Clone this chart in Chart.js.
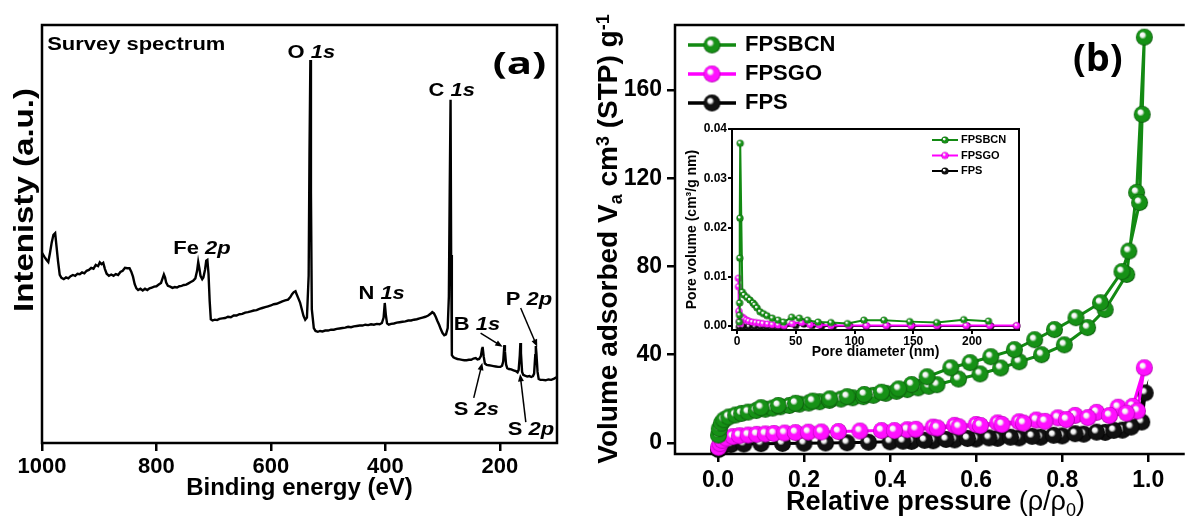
<!DOCTYPE html>
<html>
<head>
<meta charset="utf-8">
<title>XPS survey and N2 isotherms</title>
<script src="https://cdn.jsdelivr.net/npm/chart.js@4.4.1/dist/chart.umd.min.js"></script>
<style>
  html, body { margin: 0; padding: 0; background: #fff; }
  #fig { position: relative; width: 1195px; height: 523px; overflow: hidden; background: #fff; }
  #fig canvas { position: absolute; }
  #chart-a { left: 0; top: 0; }
  #chart-b { left: 580px; top: 0; }
  #chart-pore { left: 670px; top: 115px; }
</style>
</head>
<body>
<div id="fig">
  <canvas id="chart-a" width="580" height="523"></canvas>
  <canvas id="chart-b" width="615" height="523"></canvas>
  <canvas id="chart-pore" width="360" height="250"></canvas>
</div>
<script>
// Figure: (a) XPS survey spectrum, (b) N2 isotherms + BJH pore size inset

const FONT = '"Liberation Sans", Arial, Helvetica, sans-serif';
const ROUND = '"Open Sans", "Liberation Sans", sans-serif';
Chart.defaults.font.family = FONT;
Chart.defaults.color = '#000';

// --- (a) survey spectrum ---
const energyA = [1000, 996, 992, 989, 986, 983, 980, 977, 975, 972, 969, 966, 962, 958, 954, 950, 946, 942, 938, 934,
  930, 926, 922, 918, 914, 910, 906, 902, 899, 896, 893, 890, 887, 883, 879, 875, 871, 867, 863, 859,
  855, 851, 847, 844, 841, 838, 835, 832, 828, 824, 820, 816, 812, 808, 804, 800, 796, 792, 789, 787,
  785, 783, 780, 776, 772, 768, 764, 760, 756, 752, 748, 744, 740, 736, 732, 729, 727, 725, 723, 720,
  718, 715, 713, 711, 709, 707, 705, 702, 698, 694, 690, 685, 680, 675, 670, 665, 660, 655, 650, 645,
  640, 635, 630, 625, 620, 615, 610, 605, 600, 595, 590, 585, 580, 575, 570, 566, 563, 560, 557, 555,
  552, 549, 546, 543, 540, 537, 534, 532.5, 531, 530, 528.5, 525, 522, 518, 514, 510, 505, 500, 495, 490,
  485, 480, 475, 470, 465, 460, 455, 450, 445, 440, 435, 430, 425, 420, 415, 410, 406, 403, 401, 399,
  397, 394, 390, 385, 380, 375, 370, 365, 360, 355, 350, 345, 340, 335, 330, 325, 321, 318, 315, 312,
  309, 306, 303, 300, 297, 294, 291, 289, 287.5, 286, 285, 284, 283.5, 281, 278, 274, 270, 266, 262, 258,
  254, 250, 246, 242, 239, 236, 233, 231, 230, 228, 226, 223, 219, 215, 211, 207, 203, 199, 196, 194,
  192, 191, 189, 187, 184, 180, 176, 172, 169, 167, 165, 164, 163, 161, 159, 156, 152, 148, 145, 142,
  140, 138, 137, 136, 134, 132, 129, 125, 120, 115, 110, 105, 100];
const intensityA = [45.5, 44.6, 43.8, 43.3, 45.5, 48.0, 49.8, 50.2, 47.5, 43.5, 40.2, 39.5, 39.2, 39.6, 39.4, 39.9, 40.2, 40.0, 40.5, 40.4,
  40.8, 40.6, 41.2, 41.4, 41.9, 41.7, 42.6, 42.3, 43.2, 42.8, 43.1, 41.6, 40.5, 40.0, 40.3, 40.0, 40.4, 40.2, 40.9, 41.2,
  41.9, 41.8, 41.8, 41.0, 39.8, 38.0, 37.0, 36.6, 36.9, 36.5, 36.9, 36.6, 37.0, 37.2, 37.4, 37.5, 37.9, 38.3, 39.5, 40.3,
  39.6, 38.4, 37.6, 37.4, 37.1, 37.3, 37.2, 37.5, 37.6, 37.8, 37.9, 38.2, 38.5, 38.8, 39.4, 41.2, 43.3, 41.8, 40.0, 39.2,
  39.6, 41.5, 43.6, 43.8, 40.5, 34.0, 29.6, 29.3, 29.5, 29.4, 29.7, 29.8, 29.9, 30.2, 30.1, 30.5, 30.5, 30.8, 30.9, 31.2,
  31.3, 31.5, 31.7, 31.8, 32.1, 32.3, 32.5, 32.7, 32.9, 33.2, 33.3, 33.6, 33.9, 34.1, 34.3, 34.9, 35.6, 36.1, 36.3, 35.6,
  34.6, 33.6, 32.0, 30.4, 29.5, 30.0, 40.0, 70.0, 91.6, 60.0, 32.0, 27.5, 26.8, 26.6, 26.8, 26.7, 26.9, 26.9, 27.1, 27.1,
  27.3, 27.4, 27.5, 27.6, 27.8, 27.7, 27.9, 28.0, 28.1, 28.1, 28.3, 28.2, 28.4, 28.3, 28.5, 28.4, 28.7, 30.0, 33.5, 30.5,
  28.6, 28.3, 28.5, 28.6, 28.8, 28.9, 29.0, 29.1, 29.3, 29.3, 29.5, 29.6, 29.8, 30.0, 30.2, 30.5, 30.9, 31.3, 31.0, 30.2,
  29.2, 28.3, 27.2, 26.3, 25.8, 26.0, 27.5, 35.0, 60.0, 82.1, 45.0, 26.0, 21.0, 20.5, 20.3, 20.1, 20.0, 19.9, 19.8, 19.8,
  19.9, 19.9, 20.2, 20.3, 20.0, 20.1, 20.8, 22.5, 23.0, 20.6, 19.0, 18.7, 18.6, 18.5, 18.4, 18.3, 18.2, 18.2, 18.5, 19.5,
  23.4, 22.0, 18.8, 17.9, 17.7, 17.6, 17.4, 17.2, 16.9, 17.5, 21.0, 23.9, 21.5, 17.0, 16.3, 16.1, 15.9, 16.0, 15.8, 16.0,
  16.6, 21.0, 23.2, 21.5, 17.0, 15.3, 15.1, 15.1, 15.0, 15.2, 15.1, 15.4, 15.8];
const ticksEnergy = [1000, 800, 600, 400, 200];

// --- (b) N2 isotherms (adsorption then desorption) ---
const seriesNames = ['FPSBCN', 'FPSGO', 'FPS'];
const pBCN = [0.001, 0.003, 0.008, 0.014, 0.025, 0.041, 0.055, 0.070, 0.089, 0.110, 0.127, 0.145, 0.166, 0.189, 0.211, 0.236,
  0.259, 0.286, 0.313, 0.338, 0.361, 0.390, 0.415, 0.440, 0.465, 0.490, 0.509, 0.559, 0.609, 0.657, 0.700, 0.752,
  0.805, 0.859, 0.900, 0.950, 0.973, 0.991,
  0.986, 0.980, 0.955, 0.939, 0.889, 0.832, 0.782, 0.736, 0.689, 0.634, 0.586, 0.541, 0.486, 0.450, 0.420, 0.380,
  0.340, 0.300, 0.260, 0.220, 0.180, 0.140, 0.100];
const vBCN = [3.6, 6.5, 9.0, 10.5, 11.8, 12.7, 13.4, 14.0, 14.7, 15.3, 15.8, 16.4, 17.0, 17.6, 18.1, 18.7,
  19.3, 19.9, 20.5, 21.0, 21.6, 22.5, 23.4, 24.2, 25.0, 25.7, 26.4, 29.0, 31.3, 34.0, 36.8, 40.0,
  44.5, 52.3, 60.5, 76.4, 113.6, 184.0,
  149.0, 109.0, 87.0, 77.7, 63.6, 56.8, 51.4, 46.8, 42.3, 39.1, 36.4, 34.1, 30.0, 26.5, 24.5, 23.0,
  22.0, 21.0, 20.0, 19.0, 18.0, 17.0, 16.0];
const pGO = [0.001, 0.005, 0.010, 0.020, 0.035, 0.050, 0.070, 0.090, 0.110, 0.130, 0.155, 0.180, 0.210, 0.240, 0.280, 0.330,
  0.380, 0.440, 0.500, 0.550, 0.600, 0.650, 0.700, 0.740, 0.790, 0.830, 0.880, 0.930, 0.964, 0.991,
  0.975, 0.950, 0.910, 0.860, 0.810, 0.760, 0.710, 0.660, 0.610, 0.560, 0.510, 0.460, 0.410];
const vGO = [-2.0, -0.3, 1.2, 2.2, 2.9, 3.3, 3.6, 3.9, 4.1, 4.3, 4.5, 4.7, 4.9, 5.0, 5.2, 5.4,
  5.6, 6.0, 7.2, 8.0, 8.4, 9.1, 9.6, 10.4, 11.4, 12.5, 13.9, 16.2, 16.6, 34.1,
  14.5, 13.5, 12.4, 11.5, 10.6, 9.8, 9.0, 8.4, 7.9, 7.3, 6.8, 6.2, 5.6];
const pFPS = [0.001, 0.005, 0.010, 0.030, 0.060, 0.100, 0.150, 0.200, 0.250, 0.300, 0.350, 0.400, 0.450, 0.500, 0.550, 0.600,
  0.650, 0.700, 0.750, 0.800, 0.850, 0.900, 0.940, 0.970, 0.993,
  0.985, 0.960, 0.920, 0.880, 0.830, 0.780, 0.730, 0.680, 0.630, 0.580, 0.530, 0.480, 0.430];
const vFPS = [-3.0, -2.2, -1.4, -0.8, -0.5, -0.3, -0.2, -0.1, 0.0, 0.1, 0.3, 0.5, 0.7, 1.0, 1.4, 1.8,
  2.1, 2.3, 2.6, 3.2, 4.0, 4.8, 5.8, 9.5, 22.7,
  9.5, 7.2, 5.7, 4.9, 4.2, 3.5, 3.0, 2.6, 2.3, 2.0, 1.6, 1.2, 0.8];
const ticksP = [0, 0.2, 0.4, 0.6, 0.8, 1.0];
const ticksV = [0, 40, 80, 120, 160];

// --- inset: pore size distribution ---
const dBCN = [2.0, 2.1, 2.2, 2.35, 2.5, 2.7, 4.5, 6, 8.5, 11, 13.6, 15, 17, 19.6, 22.5, 25.5, 30, 35, 39.5, 46.5,
  53, 60, 69, 80, 94, 108, 125, 147, 170, 193, 214];
const pvBCN = [0.0008, 0.0022, 0.0047, 0.0138, 0.0219, 0.0371, 0.0069, 0.0063, 0.0058, 0.0053, 0.0047, 0.0043, 0.0037,
  0.0029, 0.0025, 0.0021, 0.0016, 0.0012, 0.0008, 0.0018, 0.0016, 0.0012, 0.0008, 0.0007, 0.0005, 0.0012, 0.0012,
  0.0009, 0.0007, 0.0013, 0.0010];
const dGO = [1.2, 1.3, 1.6, 2.0, 3, 4.5, 6, 8, 10, 13, 16, 19, 22, 26, 30, 35, 40, 47, 55, 62, 70, 80, 95, 110, 127,
  148, 170, 195, 215, 238];
const pvGO = [0.0097, 0.0080, 0.0030, 0.0010, 0.0005, 0.0018, 0.0015, 0.0012, 0.0010, 0.0008, 0.0007, 0.0006, 0.0005,
  0.0004, 0.0003, 0.0002, 0.0001, 0.0005, 0.0007, 0.0003, 0.0002, 0.0001, 0.0001, 0.0001, 0.0001, 0.0001, 0.0001,
  0.0001, 0.0001, 0.0001];
const dFPS = [2, 5, 10, 15, 20, 25, 30, 35, 40, 50, 57, 64, 72, 82, 96, 110, 128, 149, 171, 196, 216, 238];
const pvFPS = [-0.0002, -0.0001, -0.0001, -0.0001, -0.0001, -0.0001, -0.0001, -0.0001, 0, 0.0001, 0.0004, 0.0001, 0,
  0, 0, 0, 0, 0, 0, 0, 0, 0];
const ticksD = [0, 50, 100, 150, 200];
const ticksPV = [0, 0.01, 0.02, 0.03, 0.04];

// --- helpers ---
const bold = s => `bold ${s}px ${FONT}`;
const boldIt = s => `italic bold ${s}px ${FONT}`;
const plain = s => `${s}px ${FONT}`;
const pts = (xs, ys) => xs.map((x, i) => ({ x, y: ys[i] }));

// segs: [text, font, dy]
function rich(ctx, segs, x, y, o = {}) {
  ctx.save();
  ctx.translate(x, y);
  if (o.rot) ctx.rotate(o.rot);
  ctx.scale(o.sx || 1, 1);
  ctx.textBaseline = o.base || 'middle';
  ctx.fillStyle = '#000';
  let w = 0;
  segs.forEach(s => { ctx.font = s[1]; w += ctx.measureText(s[0]).width; });
  let cx = o.align === 'center' ? -w / 2 : 0;
  segs.forEach(s => {
    ctx.font = s[1];
    ctx.fillText(s[0], cx, s[2] || 0);
    cx += ctx.measureText(s[0]).width;
  });
  ctx.restore();
}

function arrow(ctx, x1, y1, x2, y2) {
  const ang = Math.atan2(y2 - y1, x2 - x1), h = 8;
  ctx.save();
  ctx.strokeStyle = '#000'; ctx.fillStyle = '#000'; ctx.lineWidth = 1.5;
  ctx.beginPath(); ctx.moveTo(x1, y1);
  ctx.lineTo(x2 - Math.cos(ang) * h * 0.7, y2 - Math.sin(ang) * h * 0.7); ctx.stroke();
  ctx.beginPath(); ctx.moveTo(x2, y2);
  ctx.lineTo(x2 - h * Math.cos(ang - 0.38), y2 - h * Math.sin(ang - 0.38));
  ctx.lineTo(x2 - h * Math.cos(ang + 0.38), y2 - h * Math.sin(ang + 0.38));
  ctx.closePath(); ctx.fill();
  ctx.restore();
}

// shaded ball used as point style
function sphere(color, dark, r) {
  const c = document.createElement('canvas');
  const s = Math.ceil(2 * r + 2);
  c.width = c.height = s;
  const g = c.getContext('2d'), m = s / 2;
  const grad = g.createRadialGradient(m - r * 0.3, m - r * 0.35, r * 0.05, m, m, r);
  grad.addColorStop(0, '#ffffff');
  grad.addColorStop(0.22, '#f2f2f2');
  grad.addColorStop(0.42, color);
  grad.addColorStop(0.85, color);
  grad.addColorStop(1, dark);
  g.fillStyle = grad;
  g.beginPath(); g.arc(m, m, r, 0, Math.PI * 2); g.fill();
  return c;
}

function axis(min, max, ticks, o) {
  return {
    type: 'linear', min, max,
    afterBuildTicks: s => { s.ticks = ticks.map(v => ({ value: v })); },
    afterFit: s => { if (o.w) s.width = o.w; if (o.h) s.height = o.h; },
    grid: { drawOnChartArea: false, color: '#000', lineWidth: o.lw, tickLength: o.tl },
    border: { display: false },
    ticks: { font: { size: o.fs, weight: 'bold' }, color: '#000', padding: o.pad, maxRotation: 0, autoSkip: false,
      callback: o.fmt || (v => String(v)) },
    title: o.title || { display: false }
  };
}

// --- plugins ---
const framePlugin = {
  id: 'frame',
  beforeDatasetsDraw(chart, args, o) {
    const { ctx, chartArea: a } = chart;
    ctx.save();
    ctx.strokeStyle = '#000'; ctx.lineWidth = o.lw; ctx.lineCap = 'square';
    ctx.beginPath();
    if (o.sides.includes('l')) { ctx.moveTo(a.left, a.bottom); ctx.lineTo(a.left, a.top); }
    if (o.sides.includes('t')) { ctx.moveTo(a.left, a.top); ctx.lineTo(a.right, a.top); }
    if (o.sides.includes('r')) { ctx.moveTo(a.right, a.top); ctx.lineTo(a.right, a.bottom); }
    if (o.sides.includes('b')) { ctx.moveTo(a.left, a.bottom); ctx.lineTo(a.right, a.bottom); }
    ctx.stroke();
    ctx.restore();
  }
};

const notesPlugin = {
  id: 'notes',
  afterDraw(chart, args, o) {
    const { ctx, chartArea: a, scales: { x, y } } = chart;
    (o.arrows || []).forEach(r => arrow(ctx, x.getPixelForValue(r[0]), y.getPixelForValue(r[1]),
      x.getPixelForValue(r[2]), y.getPixelForValue(r[3])));
    (o.texts || []).forEach(t => rich(ctx, t.segs, x.getPixelForValue(t.x), y.getPixelForValue(t.y), t));
    (o.titles || []).forEach(t => rich(ctx, t.segs, a.left + t.dx, a.top + t.dy, t));
  }
};

const keyPlugin = {
  id: 'key',
  afterDraw(chart, args, o) {
    const { ctx, chartArea: a } = chart;
    chart.data.datasets.forEach((ds, i) => {
      const x = a.left + o.x, y = a.top + o.y + i * o.dy;
      ctx.save();
      ctx.strokeStyle = ds.borderColor; ctx.lineWidth = o.lw;
      ctx.beginPath(); ctx.moveTo(x, y); ctx.lineTo(x + o.len, y); ctx.stroke();
      const img = ds.pointStyle;
      ctx.drawImage(img, x + o.len / 2 - img.width / 2, y - img.height / 2);
      ctx.fillStyle = '#000'; ctx.font = o.font; ctx.textBaseline = 'middle';
      ctx.fillText(ds.label, x + o.len + o.gap, y);
      ctx.restore();
    });
  }
};

const base = { responsive: false, animation: false, events: [], devicePixelRatio: 1 };

// --- (a) ---
const notesA = [
  { x: 991, y: 95.2, segs: [['Survey spectrum', bold(18)]], sx: 1.22 },
  { x: 571, y: 93.2, segs: [['O ', bold(18)], ['1s', boldIt(18)]], sx: 1.22 },
  { x: 324.5, y: 84.3, segs: [['C ', bold(18)], ['1s', boldIt(18)]], sx: 1.22 },
  { x: 770.5, y: 46.4, segs: [['Fe ', bold(18)], ['2p', boldIt(18)]], sx: 1.22 },
  { x: 447, y: 35.6, segs: [['N ', bold(18)], ['1s', boldIt(18)]], sx: 1.22 },
  { x: 280.5, y: 28.2, segs: [['B ', bold(18)], ['1s', boldIt(18)]], sx: 1.22 },
  { x: 189.5, y: 34.2, segs: [['P ', bold(18)], ['2p', boldIt(18)]], sx: 1.22 },
  { x: 280.5, y: 7.9, segs: [['S ', bold(18)], ['2s', boldIt(18)]], sx: 1.22 },
  { x: 186, y: 3.1, segs: [['S ', bold(18)], ['2p', boldIt(18)]], sx: 1.22 },
  { x: 212.5, y: 90.4, segs: [['(a)', `bold 31px ${ROUND}`]], sx: 1.35 }
];
const arrowsA = [
  [163.5, 32.3, 134.5, 23.0],
  [233.5, 26.3, 195.0, 23.0],
  [245.5, 10.8, 230.5, 19.2],
  [154.5, 5.0, 164.5, 16.5]
];

new Chart(document.getElementById('chart-a'), {
  type: 'line',
  data: { datasets: [{ label: 'Survey', data: pts(energyA, intensityA), borderColor: '#000', borderWidth: 2.4,
    pointRadius: 0, tension: 0 }] },
  options: Object.assign({}, base, {
    layout: { padding: { left: 0, top: 25, right: 23, bottom: 0 } },
    plugins: {
      legend: { display: false }, tooltip: { enabled: false },
      frame: { lw: 2.5, sides: 'ltrb' },
      notes: {
        texts: notesA, arrows: arrowsA,
        titles: [{ dx: -9, dy: 175, rot: -Math.PI / 2, align: 'center', base: 'alphabetic', sx: 1.18,
          segs: [['Intenisty (a.u.)', bold(28)]] }]
      }
    },
    scales: {
      x: Object.assign(axis(100, 1000, ticksEnergy, { lw: 2.5, tl: 8, fs: 22, pad: 3, h: 80,
        title: { display: true, text: 'Binding energy (eV)', color: '#000', font: { size: 24, weight: 'bold' },
          padding: { top: 0, bottom: 20 } } }), { reverse: true }),
      y: { min: 0, max: 100, ticks: { display: false }, grid: { display: false }, border: { display: false },
        afterFit: s => { s.width = 42; } }
    }
  }),
  plugins: [framePlugin, notesPlugin]
});

// --- (b) ---
const green = '#138a13', magenta = '#ff00ff', black = '#000000';
const ballsB = [sphere('#169116', '#0a4f0a', 8.5), sphere('#ff10ff', '#a400a4', 8.5), sphere('#111111', '#000000', 8.5)];
const ballsI = [sphere('#169116', '#0a4f0a', 3.6), sphere('#ff10ff', '#a400a4', 3.6), sphere('#111111', '#000000', 3.6)];
const colors = [green, magenta, black];

const isoData = [pts(pBCN, vBCN), pts(pGO, vGO), pts(pFPS, vFPS)];
new Chart(document.getElementById('chart-b'), {
  type: 'line',
  data: { datasets: isoData.map((d, i) => ({ label: seriesNames[i], data: d, borderColor: colors[i], borderWidth: 3,
    pointStyle: ballsB[i], pointRadius: 8.5, tension: 0, clip: false })) },
  options: Object.assign({}, base, {
    layout: { padding: { left: 0, top: 25, right: 0, bottom: 0 } },
    plugins: {
      legend: { display: false }, tooltip: { enabled: false },
      frame: { lw: 2.5, sides: 'ltb' },
      key: { x: 13, y: 20, dy: 29, len: 48, gap: 9, lw: 3.5, font: bold(22) },
      notes: {
        texts: [{ x: 0.825, y: 173.6, segs: [['(b)', `bold 38px ${ROUND}`]] }],
        titles: [
          { dx: -58, dy: 214, rot: -Math.PI / 2, align: 'center', base: 'alphabetic',
            segs: [['Volume adsorbed V', bold(28)], ['a', bold(18), 5], [' cm', bold(28)], ['3', bold(18), -8],
              [' (STP) g', bold(28)], ['-1', bold(18), -8]] },
          { dx: 260.5, dy: 485, align: 'center', base: 'alphabetic',
            segs: [['Relative pressure ', bold(27)], ['(\u03c1/\u03c1', plain(27)], ['0', plain(18), 6], [')', plain(27)]] }
        ]
      }
    },
    scales: {
      x: axis(-0.1, 1.082, ticksP, { lw: 2.5, tl: 8, fs: 23, pad: 5, h: 69, fmt: v => v.toFixed(1) }),
      y: axis(-5, 189.5, ticksV, { lw: 2.5, tl: 8, fs: 23, pad: 5, w: 95 })
    }
  }),
  plugins: [framePlugin, notesPlugin, keyPlugin]
});

// --- inset ---
const poreData = [pts(dBCN, pvBCN), pts(dGO, pvGO), pts(dFPS, pvFPS)];
new Chart(document.getElementById('chart-pore'), {
  type: 'line',
  data: { datasets: poreData.map((d, i) => ({ label: seriesNames[i], data: d, borderColor: colors[i], borderWidth: 2,
    pointStyle: ballsI[i], pointRadius: 3.6, tension: 0, clip: false })) },
  options: Object.assign({}, base, {
    layout: { padding: { left: 0, top: 14, right: 11, bottom: 0 } },
    plugins: {
      legend: { display: false }, tooltip: { enabled: false },
      frame: { lw: 2, sides: 'ltrb' },
      key: { x: 200, y: 11, dy: 15.5, len: 26, gap: 3, lw: 2, font: bold(11) }
    },
    scales: {
      x: axis(-4.3, 240, ticksD, { lw: 2, tl: 4, fs: 12, pad: 0, h: 35,
        title: { display: true, text: 'Pore diameter (nm)', color: '#000', font: { size: 14, weight: 'bold' },
          padding: { top: 0, bottom: 4 } } }),
      y: axis(-0.0008, 0.04, ticksPV, { lw: 2, tl: 4, fs: 12, pad: 1, w: 62, fmt: v => v.toFixed(2),
        title: { display: true, text: 'Pore volume (cm\u00b3/g nm)', color: '#000', font: { size: 14, weight: 'bold' },
          padding: { top: 13.5, bottom: 0 } } })
    }
  }),
  plugins: [framePlugin, keyPlugin]
});
</script>
</body>
</html>
